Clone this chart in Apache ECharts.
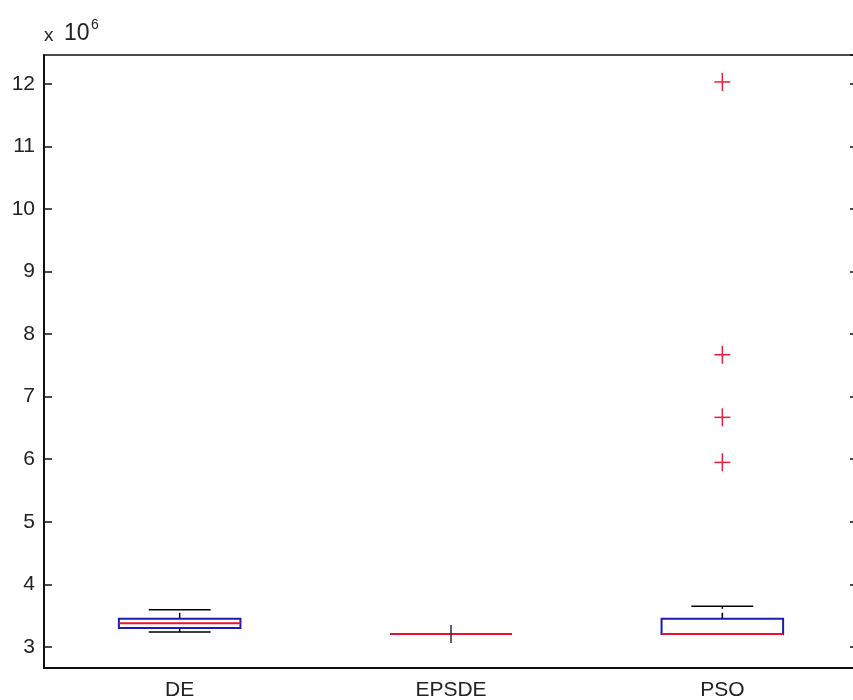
<!DOCTYPE html>
<html><head><meta charset="utf-8">
<script src="https://cdn.jsdelivr.net/npm/echarts@6/dist/echarts.min.js"></script>
<style>html,body{margin:0;padding:0;background:#fff}#c{width:853px;height:700px}</style>
</head><body><div id="c"></div>
<script>
// values in units of 1e6
const categories = ['DE', 'EPSDE', 'PSO'];
const whiskerLow = [3.24, 3.208, 3.208];
const q1 = [3.303, 3.208, 3.208];
const medians = [3.378, 3.208, 3.208];
const q3 = [3.45, 3.208, 3.45];
const whiskerHigh = [3.595, 3.208, 3.65];
const outlierGroup = [2, 3, 3, 3, 3];
const outlierValues = [3.208, 12.03, 7.67, 6.67, 5.95];

const boxHalf = 0.224, capHalf = 0.114;
const FONT = 'Liberation Sans';

const boxData = categories.map((c, i) => [i + 1, whiskerLow[i], q1[i], medians[i], q3[i], whiskerHigh[i]]);
const outData = outlierGroup.map((g, i) => [g, outlierValues[i]]);

function renderBox(params, api) {
  const x = api.value(0);
  const lo = api.value(1), a = api.value(2), m = api.value(3), b = api.value(4), hi = api.value(5);
  const P = (xx, yy) => api.coord([xx, yy]);
  const line = (p1, p2, color, dash, w) => ({
    type: 'line',
    shape: { x1: p1[0], y1: p1[1], x2: p2[0], y2: p2[1] },
    style: { stroke: color, lineWidth: w || 1.5, lineDash: dash || null }
  });
  const children = [];
  children.push(line(P(x, b), P(x, hi), '#000', [6, 4]));
  children.push(line(P(x, lo), P(x, a), '#000', [6, 4]));
  children.push(line(P(x - capHalf, hi), P(x + capHalf, hi), '#000'));
  children.push(line(P(x - capHalf, lo), P(x + capHalf, lo), '#000'));
  const tl = P(x - boxHalf, b), br = P(x + boxHalf, a);
  children.push({
    type: 'rect',
    shape: { x: tl[0], y: tl[1], width: br[0] - tl[0], height: br[1] - tl[1] },
    style: { fill: 'none', stroke: '#1c1cb0', lineWidth: 2 }
  });
  children.push(line(P(x - boxHalf, m), P(x + boxHalf, m), '#ee1133', null, 2));
  return { type: 'group', children };
}

function renderPlus(params, api) {
  const g = api.value(0), v = api.value(1);
  const c = api.coord([g, v]);
  const i = g - 1;
  const inside = v >= whiskerLow[i] && v <= whiskerHigh[i];
  const col = inside ? '#3a2836' : '#e8203c';
  const r = 8;
  return {
    type: 'group', children: [
      { type: 'line', shape: { x1: c[0] - r, y1: c[1], x2: c[0] + r, y2: c[1] }, style: { stroke: inside ? '#ee1133' : col, lineWidth: 1.5 } },
      { type: 'line', shape: { x1: c[0], y1: c[1] - r - 1, x2: c[0], y2: c[1] + r + 1 }, style: { stroke: col, lineWidth: 1.5 } }
    ]
  };
}

const chart = echarts.init(document.getElementById('c'), null, { renderer: 'canvas' });
chart.setOption({
  backgroundColor: '#fff',
  animation: false,
  grid: { left: 44, top: 55, width: 814, bottom: 32, outerBoundsMode: 'none', containLabel: false, show: true, borderColor: '#111', borderWidth: 1.5, backgroundColor: 'transparent' },
  xAxis: {
    type: 'value', min: 0.5, max: 3.5, minInterval: 1, maxInterval: 1,
    axisLine: { show: true, onZero: false, lineStyle: { color: '#111', width: 2 } },
    axisTick: { show: false },
    splitLine: { show: false },
    axisLabel: {
      margin: 12, fontFamily: FONT, fontSize: 21, color: '#222',
      formatter: v => (Math.abs(v - Math.round(v)) < 1e-6 && categories[Math.round(v) - 1]) || ''
    }
  },
  yAxis: [{
    type: 'value', min: 2.664, max: 12.46, minInterval: 1, maxInterval: 1,
    axisLine: { show: true, lineStyle: { color: '#111', width: 2 } },
    axisTick: { show: true, inside: true, length: 8, lineStyle: { color: '#111', width: 1.5 } },
    splitLine: { show: false },
    axisLabel: {
      margin: 9, fontFamily: FONT, fontSize: 21, color: '#222',
      showMinLabel: false, showMaxLabel: false,
      formatter: v => (Math.abs(v - Math.round(v)) < 1e-6 ? String(Math.round(v)) : '')
    }
  }, {
    type: 'value', position: 'right', min: 2.664, max: 12.46, minInterval: 1, maxInterval: 1,
    axisLine: { show: true, lineStyle: { color: '#111', width: 1.5 } },
    axisTick: { show: true, inside: true, length: 8, lineStyle: { color: '#111', width: 1.5 } },
    splitLine: { show: false },
    axisLabel: { show: false }
  }],
  graphic: [
    { type: 'text', x: 44, y: 36, style: { text: 'x', font: '19px ' + FONT, fill: '#222', verticalAlign: 'middle' } },
    { type: 'text', x: 64, y: 34, style: { text: '10', font: '23px ' + FONT, fill: '#222', verticalAlign: 'middle' } },
    { type: 'text', x: 91, y: 25, style: { text: '6', font: '14px ' + FONT, fill: '#222', verticalAlign: 'middle' } }
  ],
  series: [
    { type: 'custom', renderItem: renderBox, data: boxData, encode: { x: 0, y: [1, 2, 3, 4, 5] }, clip: false },
    { type: 'custom', renderItem: renderPlus, data: outData, encode: { x: 0, y: 1 } }
  ]
});
</script></body></html>
